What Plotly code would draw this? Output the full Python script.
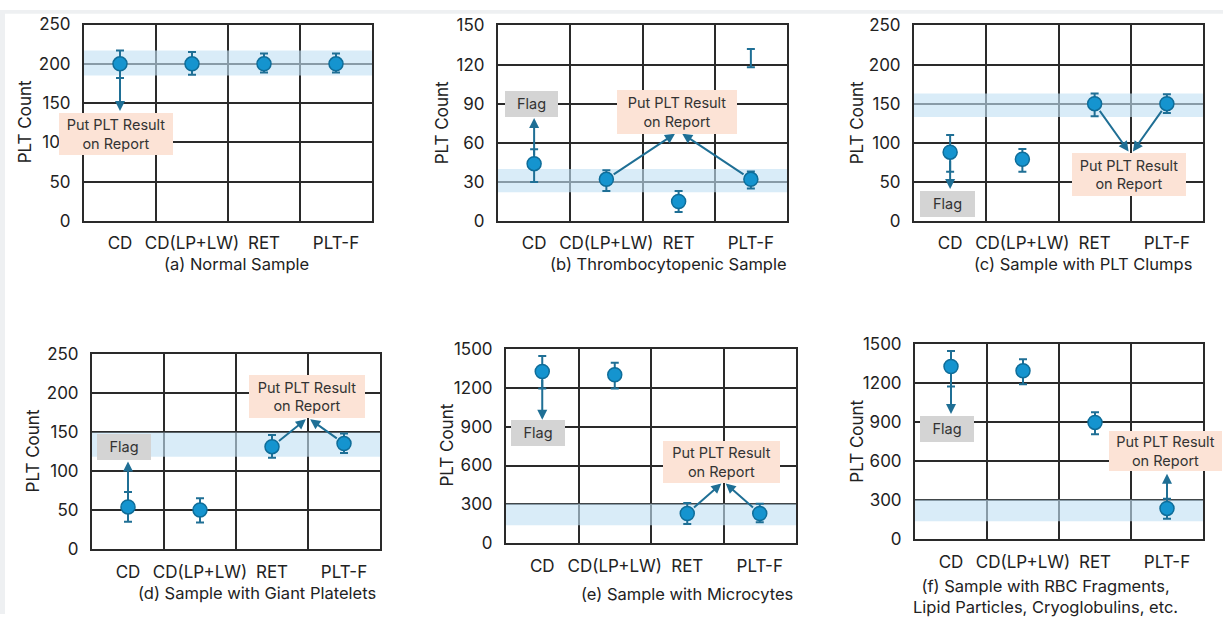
import plotly.graph_objects as go

W, H = 1223, 624
FONT = "Inter"

categories = ["CD", "CD(LP+LW)", "RET", "PLT-F"]

panel_titles = [
    "(a) Normal Sample",
    "(b) Thrombocytopenic Sample",
    "(c) Sample with PLT Clumps",
    "(d) Sample with Giant Platelets",
    "(e) Sample with Microcytes",
    "(f) Sample with RBC Fragments,<br>Lipid Particles, Cryoglobulins, etc.",
]
y_max = [250, 150, 250, 250, 1500, 1500]
y_step = [50, 30, 50, 50, 300, 300]

# PLT counts (mean, upper, lower) per panel
a_val = [200, 200, 200, 200]; a_hi = [217, 215, 213, 213]; a_lo = [182, 186, 189, 189]
b_val = [44, 32, 15, 32];     b_hi = [55, 39, 23, 38];     b_lo = [30, 23, 7, 25]
c_val = [88, 79, 150, 150];   c_hi = [110, 92, 163, 162];  c_lo = [63, 63, 134, 138]
d_val = [54, 50, 131, 135];   d_hi = [73, 65, 146, 148];   d_lo = [35, 34, 117, 123]
e_val = [1325, 1300, 230, 230]; e_hi = [1445, 1393, 311, 306]; e_lo = [1194, 1194, 149, 162]
f_val = [1327, 1294, 898, 238]; f_hi = [1445, 1383, 975, 312]; f_lo = [1173, 1190, 807, 158]

# extra interval without marker in panel (b), PLT-F
b_extra_val = [125]; b_extra_hi = [132]; b_extra_lo = [118]

# reference band (low, high)
band_lo = [185, 22, 133, 118, 140, 139]
band_hi = [217, 40, 163, 149, 306, 304]

vals = [a_val, b_val, c_val, d_val, e_val, f_val]
his = [a_hi, b_hi, c_hi, d_hi, e_hi, f_hi]
los = [a_lo, b_lo, c_lo, d_lo, e_lo, f_lo]

# plot-area pixel boxes (left, top, right, bottom)
boxes = [(84, 15, 372, 218), (498, 16, 787, 218), (914, 16, 1203, 218),
         (92, 355, 380, 557), (506, 350, 796, 551), (915, 345, 1203, 547)]
ytitle_pos = [(25, 116), (442, 117), (857, 117), (33, 456), (447, 450), (857, 446)]
title_pos = [(236, 262), (668, 262), (1083, 262), (257, 602), (687, 603), (1045, 606)]

# arrows: (panel, from category index, tip x, tip y)
arrows = [
    (0, 0, 0.5, 140),
    (1, 0, 0.5, 79), (1, 1, 2.45, 67), (1, 3, 2.55, 67),
    (2, 0, 0.5, 41), (2, 2, 2.97, 89), (2, 3, 3.03, 89),
    (3, 0, 0.5, 112), (3, 2, 2.97, 166), (3, 3, 3.03, 166),
    (4, 0, 0.5, 953), (4, 2, 2.97, 462), (4, 3, 3.03, 462),
    (5, 0, 0.5, 963), (5, 3, 3.5, 505),
]
# label boxes: (panel, kind, center x, center y, width, height)
labels = [
    (0, "put", 0.44, 111, 114, 42),
    (1, "flag", 0.46, 90, 53, 26), (1, "put", 2.48, 84, 120, 44),
    (2, "flag", 0.46, 22, 55, 26), (2, "put", 2.98, 60, 114, 43),
    (3, "flag", 0.44, 131, 54, 26), (3, "put", 2.99, 195, 116, 43),
    (4, "flag", 0.44, 850, 54, 26), (4, "put", 2.97, 628, 117, 42),
    (5, "flag", 0.44, 846, 54, 26), (5, "put", 3.48, 675, 113, 40),
]

MARK = "#1594cf"
MARK_LINE = "#0f6d99"
ERR = "#1f6f95"
GRID = "#2a2a2a"
TEXT = "#222222"

xpos = [i + 0.5 for i in range(len(categories))]

fig = go.Figure()
layout = {}
annotations = []

for p in range(6):
    s = "" if p == 0 else str(p + 1)
    xa, ya = "x" + s, "y" + s
    l, t, r, b = boxes[p]
    fig.add_trace(go.Scatter(
        x=[0, 4, 4, 0, 0], y=[band_lo[p], band_lo[p], band_hi[p], band_hi[p], band_lo[p]],
        fill="toself", fillcolor="rgba(193,225,244,0.62)", line=dict(width=0),
        mode="lines", hoverinfo="skip", showlegend=False, xaxis=xa, yaxis=ya))
    v = vals[p]
    fig.add_trace(go.Scatter(
        x=xpos, y=v, mode="markers", showlegend=False, xaxis=xa, yaxis=ya,
        marker=dict(size=14, color=MARK, line=dict(color=MARK_LINE, width=1.5)),
        error_y=dict(type="data", symmetric=False,
                     array=[h - m for h, m in zip(his[p], v)],
                     arrayminus=[m - lo for lo, m in zip(los[p], v)],
                     color=ERR, thickness=2, width=4)))
    if p == 1:
        fig.add_trace(go.Scatter(
            x=[xpos[3]], y=b_extra_val, mode="markers", showlegend=False, xaxis=xa, yaxis=ya,
            marker=dict(size=1, color="rgba(0,0,0,0)"),
            error_y=dict(type="data", symmetric=False,
                         array=[b_extra_hi[0] - b_extra_val[0]],
                         arrayminus=[b_extra_val[0] - b_extra_lo[0]],
                         color=ERR, thickness=2, width=4)))

    layout["xaxis" + s] = dict(
        domain=[l / W, r / W], anchor=ya, range=[0, 4],
        tickvals=xpos, ticktext=categories, ticks="", showgrid=False, zeroline=False,
        minor=dict(tick0=0, dtick=1, showgrid=True, gridcolor=GRID, gridwidth=2, ticks=""),
        showline=True, mirror=True, linecolor=GRID, linewidth=2,
        tickfont=dict(family=FONT, size=17, color=TEXT), ticklabelstandoff=6, fixedrange=True)
    layout["yaxis" + s] = dict(
        domain=[1 - b / H, 1 - t / H], anchor=xa, range=[0, y_max[p]], dtick=y_step[p],
        tick0=0, ticks="", showgrid=True, gridcolor=GRID, gridwidth=2, zeroline=False,
        showline=True, mirror=True, linecolor=GRID, linewidth=2,
        tickfont=dict(family=FONT, size=17, color=TEXT), ticklabelstandoff=8, fixedrange=True)

    px, py = ytitle_pos[p]
    annotations.append(dict(x=px / W, y=1 - py / H, xref="paper", yref="paper",
                            text="PLT Count", showarrow=False, textangle=-90,
                            font=dict(family=FONT, size=17, color=TEXT),
                            xanchor="center", yanchor="middle"))
    px, py = title_pos[p]
    annotations.append(dict(x=px / W, y=1 - py / H, xref="paper", yref="paper",
                            text=panel_titles[p], showarrow=False,
                            font=dict(family=FONT, size=16.5, color=TEXT),
                            xanchor="center", yanchor="middle"))

for p, ci, tx, ty in arrows:
    s = "" if p == 0 else str(p + 1)
    annotations.append(dict(
        x=tx, y=ty, ax=xpos[ci], ay=vals[p][ci], xref="x" + s, yref="y" + s,
        axref="x" + s, ayref="y" + s, text="", showarrow=True,
        arrowhead=2, arrowsize=1, arrowwidth=2, arrowcolor=ERR, startstandoff=7))

for p, kind, cx, cy, w, h in labels:
    s = "" if p == 0 else str(p + 1)
    annotations.append(dict(
        x=cx, y=cy, xref="x" + s, yref="y" + s, showarrow=False,
        text="Put PLT Result<br>on Report" if kind == "put" else "Flag",
        bgcolor="#fce3d6" if kind == "put" else "#d4d4d4",
        width=w, height=h, borderpad=0, borderwidth=0,
        font=dict(family=FONT, size=14.5, color="#333333"),
        xanchor="center", yanchor="middle", align="center", valign="middle"))

shapes = [
    dict(type="rect", xref="paper", yref="paper", x0=0, x1=5 / W, y0=0, y1=1,
         fillcolor="#eef0f2", line=dict(width=0), layer="below"),
    dict(type="rect", xref="paper", yref="paper", x0=0, x1=1, y0=1 - 4 / H, y1=1,
         fillcolor="#eef0f2", line=dict(width=0), layer="below"),
]

fig.update_layout(
    width=W, height=H, autosize=False,
    margin=dict(l=0, r=0, t=0, b=0),
    paper_bgcolor="white", plot_bgcolor="white",
    showlegend=False, annotations=annotations, shapes=shapes,
    font=dict(family=FONT, color=TEXT),
    **layout)

fig.write_html("out.html", config={"displayModeBar": False},
               post_script="document.body.style.margin='0';document.body.style.overflow='hidden';")
